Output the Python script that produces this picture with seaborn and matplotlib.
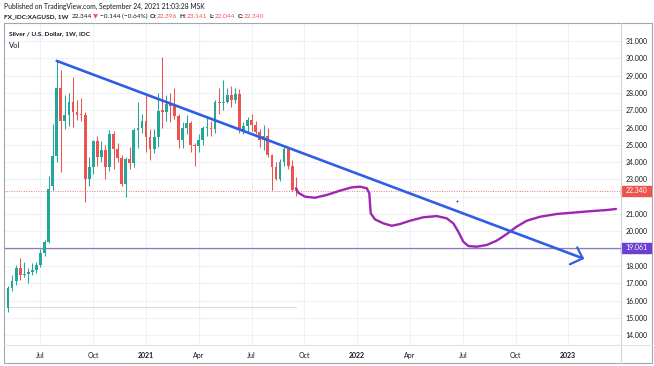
import numpy as np
import pandas as pd
import matplotlib
matplotlib.use("Agg")
import matplotlib.pyplot as plt
import matplotlib.transforms as mtransforms
from matplotlib.patches import Rectangle
from matplotlib.lines import Line2D
import seaborn as sns

# ---------------- data ----------------
first_week = "2020-05-11"
opens = [15.57, 16.72, 17.15, 17.90, 17.45, 17.52, 17.62, 17.75, 18.05, 18.75,
         19.40, 22.60, 24.35, 28.30, 26.40, 26.75, 27.50, 26.90, 26.75, 26.70,
         23.00, 23.70, 25.20, 24.30, 24.70, 23.70, 25.65, 24.75, 24.25, 22.75,
         24.20, 23.95, 25.85, 25.95, 26.40, 25.45, 24.75, 25.45, 27.00, 26.90,
         27.35, 27.25, 26.65, 25.25, 25.95, 26.25, 25.00, 24.95, 25.25, 25.95,
         26.00, 25.90, 27.45, 27.40, 27.50, 27.90, 27.60, 27.95, 25.85, 26.10,
         26.45, 26.15, 25.75, 25.25, 25.50, 24.40, 23.72, 23.05, 24.00, 24.75,
         23.80, 22.396]
highs = [16.85, 17.45, 18.05, 18.45, 18.20, 17.90, 18.15, 18.25, 19.00, 19.50,
         23.20, 26.20, 29.85, 29.30, 27.90, 28.00, 28.90, 27.60, 27.70, 26.90,
         24.30, 25.30, 25.50, 25.20, 25.00, 25.85, 25.80, 25.10, 24.40, 24.30,
         24.90, 26.00, 27.45, 26.80, 27.90, 25.90, 25.90, 28.00, 30.10, 27.90,
         28.00, 28.30, 26.80, 26.30, 26.70, 26.40, 25.10, 25.60, 26.10, 26.60,
         26.40, 27.60, 28.30, 28.75, 28.30, 28.40, 28.30, 28.20, 26.30, 26.60,
         26.80, 26.40, 25.90, 26.15, 25.95, 24.45, 24.00, 24.20, 24.85, 24.90,
         24.10, 23.141]
lows = [15.33, 16.55, 16.90, 17.20, 17.35, 17.00, 17.45, 17.60, 17.95, 18.60,
        19.30, 22.40, 24.00, 23.45, 25.90, 26.10, 26.05, 26.45, 26.40, 21.70,
        22.60, 23.30, 23.80, 24.00, 23.00, 23.50, 23.60, 24.00, 22.60, 22.00,
        23.60, 23.70, 24.80, 25.70, 24.60, 24.10, 24.50, 24.90, 26.00, 26.40,
        26.30, 26.50, 24.80, 24.80, 25.60, 24.60, 23.80, 24.60, 25.00, 25.50,
        25.50, 25.70, 26.80, 27.00, 27.40, 27.20, 27.40, 25.70, 25.60, 25.70,
        25.80, 25.60, 24.90, 24.70, 24.30, 22.40, 22.95, 22.90, 23.80, 23.60,
        22.35, 22.044]
closes = [16.72, 17.15, 17.90, 17.45, 17.52, 17.62, 17.75, 18.05, 18.75, 19.40,
          22.45, 24.35, 28.30, 26.40, 26.75, 27.50, 26.90, 26.75, 26.70, 23.00,
          23.70, 25.20, 24.30, 24.70, 23.70, 25.65, 24.75, 24.25, 22.75, 24.20,
          23.95, 25.85, 25.95, 26.40, 25.45, 24.75, 25.45, 26.95, 26.90, 27.35,
          27.25, 26.65, 25.25, 25.95, 26.25, 25.00, 24.95, 25.25, 25.95, 26.00,
          25.90, 27.45, 27.40, 27.50, 27.90, 27.60, 27.95, 25.85, 26.10, 26.45,
          26.15, 25.75, 25.25, 25.50, 24.40, 23.72, 23.05, 24.00, 24.75, 23.80,
          22.40, 22.34]

# drawings (x in weeks since first candle)
trend_weeks = [12.0, 141.55]
trend_prices = [29.85, 18.44]
arrow_weeks = [140.2, 141.55, 138.4]
arrow_prices = [19.07, 18.44, 18.09]

brush_weeks = [70.94, 71.50, 73.15, 75.62, 78.50, 81.77, 84.66, 86.70, 88.35, 88.99,
               89.16, 89.34, 90.39, 92.44, 94.51, 96.55, 99.01, 102.29, 105.59, 108.05,
               109.68, 110.91, 112.14, 113.37, 115.44, 117.91, 120.37, 122.83, 125.30, 127.76,
               131.03, 135.15, 139.24, 143.35, 147.46, 149.75]
brush_prices = [22.49, 22.23, 22.00, 21.94, 22.10, 22.35, 22.54, 22.58, 22.49, 22.20,
                21.62, 21.04, 20.69, 20.46, 20.32, 20.42, 20.61, 20.81, 20.88, 20.75,
                20.46, 19.98, 19.40, 19.15, 19.11, 19.21, 19.46, 19.84, 20.27, 20.61,
                20.84, 21.00, 21.08, 21.16, 21.23, 21.29]
dot_week = [110.5]
dot_price = [21.75]

last_price = 22.340
level_price = 19.061
vol_baseline = 15.62

tick_dates = ["2020-07-01", "2020-10-01", "2021-01-01", "2021-04-01", "2021-07-01",
              "2021-10-01", "2022-01-01", "2022-04-01", "2022-07-01", "2022-10-01",
              "2023-01-01"]
tick_labels = ["Jul", "Oct", "2021", "Apr", "Jul", "Oct", "2022", "Apr", "Jul", "Oct", "2023"]
price_ticks = list(range(14, 32))
hidden_price_labels = [19, 22]   # covered by the price badges

header1 = "Published on TradingView.com, September 24, 2021 21:03:28 MSK"
symbol = "FX_IDC:XAGUSD, 1W"
last_txt = "22.344"
change_txt = "\u22120.144 (\u22120.64%)"
ohlc_txt = [("O:", "22.396"), ("H:", "23.141"), ("L:", "22.044"), ("C:", "22.340")]
legend_title = "Silver / U.S. Dollar, 1W, IDC"
legend_vol = "Vol"

# ---------------- styling ----------------
sns.set_theme(style="white")
FONT = ["Lato", "DejaVu Sans"]
plt.rcParams["font.family"] = FONT
GREEN = "#26a69a"
RED = "#ef5350"
DARK = "#131722"
GRID = "#eef1f7"
FRAME = "#a3a6af"

W, H = 654, 366
fig = plt.figure(figsize=(W / 100, H / 100), dpi=100)
fig.patch.set_facecolor("white")

PX_L, PX_R, PX_T, PX_B = 4, 621, 23, 345
ax = fig.add_axes([PX_L / W, 1 - PX_B / H, (PX_R - PX_L) / W, (PX_B - PX_T) / H])
ax.set_facecolor("white")

# x: weeks since first candle; 4.06 px per week, first candle at px 8
px_per_week = 4.06
ax.set_xlim((PX_L - 8) / px_per_week, (PX_R - 8) / px_per_week)
px_per_unit = 17.3
ax.set_ylim(31 - (PX_B - 41) / px_per_unit, 31 + (41 - PX_T) / px_per_unit)

weeks = np.arange(len(opens))
o = np.array(opens); c = np.array(closes); h = np.array(highs); l = np.array(lows)
cols = [GREEN if cc >= oo else RED for oo, cc in zip(o, c)]

# grid
start = pd.Timestamp(first_week)
tick_weeks = [int(np.ceil((pd.Timestamp(d) - start).days / 7)) for d in tick_dates]
ax.set_xticks(tick_weeks)
ax.set_xticklabels(tick_labels)
ax.set_yticks(price_ticks)
ax.set_yticklabels(["" if v in hidden_price_labels else f"{v:.3f}" for v in price_ticks])
ax.grid(True, color=GRID, lw=0.8, zorder=0)
ax.set_axisbelow(True)

# volume baseline
ax.plot([weeks[0], weeks[-1]], [vol_baseline, vol_baseline], color="#cfe3dc", lw=0.8, zorder=1)

# last price dotted line and level line
ax.axhline(last_price, color=RED, lw=0.7, ls=(0, (1, 1.5)), alpha=0.8, zorder=1)
ax.axhline(level_price, color="#8e7cc3", lw=0.9, zorder=1)

# candles
ax.vlines(weeks, l, h, colors=cols, lw=0.75, zorder=3)
body_h = np.maximum(np.abs(c - o), 0.06)
ax.bar(weeks, body_h, bottom=np.minimum(o, c), width=0.68, color=cols, linewidth=0, zorder=4)

# trend line with arrow
df_tr = pd.DataFrame({"w": trend_weeks, "p": trend_prices})
sns.lineplot(data=df_tr, x="w", y="p", color="#2f5ee6", lw=1.9, sort=False, ax=ax, zorder=6)
df_ar = pd.DataFrame({"w": arrow_weeks, "p": arrow_prices})
sns.lineplot(data=df_ar, x="w", y="p", color="#2f5ee6", lw=1.6, sort=False, ax=ax, zorder=6)

# brush curve
df_br = pd.DataFrame({"w": brush_weeks, "p": brush_prices})
sns.lineplot(data=df_br, x="w", y="p", color="#9c27b0", lw=1.7, sort=False, ax=ax, zorder=5)
ax.scatter(dot_week, dot_price, s=2, color="#6a2c7a", zorder=5, linewidths=0)

ax.set_xlabel("")
ax.set_ylabel("")
ax.yaxis.tick_right()
ax.tick_params(axis="y", length=0, pad=3.5, labelsize=5, labelcolor=DARK)
ax.tick_params(axis="x", length=0, pad=5, labelsize=5, labelcolor=DARK)
for lab in ax.get_xticklabels():
    if lab.get_text().isdigit():
        lab.set_fontweight("bold")
for sp in ax.spines.values():
    sp.set_visible(False)

# price labels on axis
blend = mtransforms.blended_transform_factory(ax.transAxes, ax.transData)
bw = 30 / (PX_R - PX_L)
bh = 10 / px_per_unit
for val, colr in [(last_price, RED), (level_price, "#6b3fd4")]:
    ax.add_patch(Rectangle((1.0, val - bh / 2), bw, bh, transform=blend, color=colr,
                           clip_on=False, zorder=10))
    ax.text(1.0 + bw / 2, val, f"{val:.3f}", transform=blend, ha="center", va="center",
            fontsize=5, color="white", clip_on=False, zorder=11)

# frame lines (figure pixels)
def fline(x0, y0, x1, y1, color=FRAME, lw=0.8):
    fig.add_artist(Line2D([x0 / W, x1 / W], [1 - y0 / H, 1 - y1 / H], color=color, lw=lw,
                          transform=fig.transFigure))

fline(4, 23, 652, 23)
fline(4, 23, 4, 363)
fline(652, 23, 652, 363)
fline(4, 363, 652, 363)
fline(PX_R, 23, PX_R, 363, color="#d1d4dc")
fline(4, PX_B, 652, PX_B, color="#e0e3eb")

# header text
renderer = fig.canvas.get_renderer()

def fit_text(x, y, s, target, **kw):
    t = fig.text(x / W, 1 - y / H, s, va="center", ha="left", fontsize=5, **kw)
    w = t.get_window_extent(renderer).width
    t.set_fontsize(5 * target / w)
    return t

fit_text(4, 6, header1, 203, color=DARK)

def layout(pieces, size):
    texts, x = [], 4
    for s, wt, colr, gap in pieces:
        t = fig.text(x / W, 1 - 16.5 / H, s, va="center", ha="left", fontsize=size,
                     fontweight=wt, color=colr)
        x += t.get_window_extent(renderer).width + gap
        texts.append(t)
    return texts, x - 4

pieces = [(symbol, "bold", DARK, 3), (last_txt, "normal", DARK, 1.5),
          ("\u25bc", "normal", RED, 1.5), (change_txt, "normal", DARK, 2.5)]
for k, (lab, val) in enumerate(ohlc_txt):
    pieces.append((lab, "bold", DARK, 0.3))
    pieces.append((val, "normal", RED, 2.5))
texts, tw = layout(pieces, 5)
for t in texts:
    t.remove()
layout(pieces, 5 * 261 / tw)

fit_text(9, 34, legend_title, 82, color=DARK, fontweight="bold")
fit_text(9, 45, legend_vol, 11, color=DARK)

fig.savefig("out.png", dpi=100)
